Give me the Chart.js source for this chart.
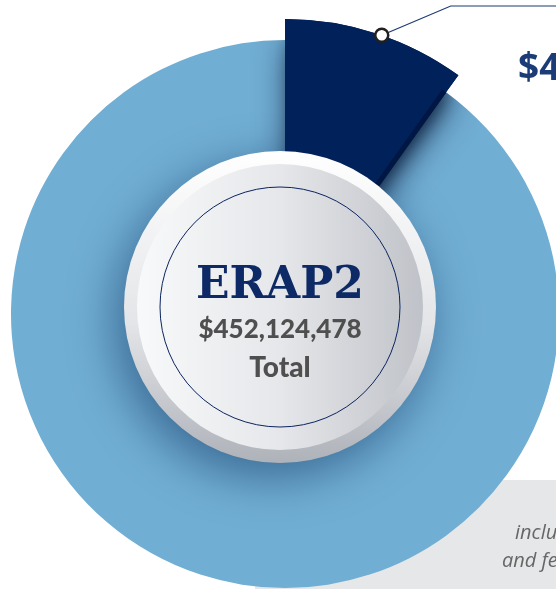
<!DOCTYPE html>
<html>
<head>
<meta charset="utf-8">
<script src="https://cdn.jsdelivr.net/npm/chart.js@4.4.1/dist/chart.umd.min.js"></script>
<style>
  html, body { margin: 0; padding: 0; background: #fff; }
  body { width: 556px; height: 592px; position: relative; overflow: hidden; }
  #note-box { position: absolute; left: 255px; top: 480px; width: 320px; height: 109px; background: #e6e7e8; }
  #wrap { position: absolute; left: -10px; top: 0; width: 600px; height: 640px; }
  .txt { position: absolute; white-space: nowrap; }
  #center-title { left: 130px; width: 300px; top: 261px; text-align: center; font: bold 44px/44px "DejaVu Serif", serif; color: #0d2a66; }
  #center-total { left: 130px; width: 300px; top: 315px; text-align: center; font: 900 26px/26px Lato, sans-serif; color: #4f4f4f; }
  #center-word { left: 130px; width: 300px; top: 352px; text-align: center; font: 900 28px/28px Lato, sans-serif; color: #4f4f4f; }
  #slice-label { left: 518px; top: 47px; font: bold 37px/37px "Open Sans", sans-serif; color: #1c3c78; }
  .note { font: italic 20px/20px "Open Sans", sans-serif; color: #666; }
</style>
</head>
<body>
<div id="note-box"></div>
<div id="wrap"><canvas id="erapChart" width="600" height="640"></canvas></div>
<div class="txt" id="center-title">ERAP2</div>
<div class="txt" id="center-total"></div>
<div class="txt" id="center-word">Total</div>
<div class="txt" id="slice-label"></div>
<div class="txt note" style="left:515px; top:522px;">includes administrative costs</div>
<div class="txt note" style="left:502px; top:550px;">and fees</div>

<script>
// --- Data ---
const categories = ['Administrative', 'Assistance'];
const amounts = [45212448, 406912030];
const sliceColors = ['#00215a', '#71aed4'];

document.addEventListener("DOMContentLoaded", function () {

    const total = amounts.reduce((a, b) => a + b, 0);
    document.getElementById("center-total").textContent = "$" + total.toLocaleString("en-US");
    document.getElementById("slice-label").textContent = "$" + amounts[0].toLocaleString("en-US");

    function wedge(ctx, cx, cy, r0, r1, a0, a1) {
        ctx.beginPath();
        ctx.arc(cx, cy, r1, a0, a1);
        ctx.arc(cx, cy, r0, a1, a0, true);
        ctx.closePath();
    }

    // --- Decorations: shadows, center button, leader line ---
    const decor = {
        id: 'decor',
        afterDatasetsDraw(chart) {
            const ctx = chart.ctx;
            const band = chart.getDatasetMeta(0).data[0];
            const inner = chart.getDatasetMeta(1).data[0];
            const cx = inner.x, cy = inner.y;
            const a0 = inner.startAngle, a1 = inner.endAngle;

            // shadow of the navy slice on the ring (two passes so it reads)
            ctx.save();
            ctx.beginPath();
            ctx.arc(cx, cy, inner.outerRadius, 0, Math.PI * 2);
            ctx.clip();
            ctx.fillStyle = sliceColors[0];
            ctx.shadowColor = 'rgba(0, 15, 45, 0.8)';
            ctx.shadowBlur = 34;
            ctx.shadowOffsetX = 6;
            ctx.shadowOffsetY = 2;
            wedge(ctx, cx, cy, inner.innerRadius, inner.outerRadius, a0, a1);
            ctx.fill();
            ctx.shadowBlur = 14;
            ctx.shadowOffsetX = 5;
            ctx.shadowColor = 'rgba(0, 15, 45, 0.45)';
            ctx.fill();
            ctx.restore();

            // whole navy slice (no seam between rings) with darker edge
            ctx.fillStyle = sliceColors[0];
            wedge(ctx, cx, cy, inner.innerRadius, band.outerRadius, a0, a1);
            ctx.fill();
            ctx.save();
            ctx.strokeStyle = '#001643';
            ctx.lineWidth = 5;
            ctx.beginPath();
            ctx.moveTo(cx + Math.cos(a1 - 0.008) * inner.innerRadius, cy + Math.sin(a1 - 0.008) * inner.innerRadius);
            ctx.lineTo(cx + Math.cos(a1 - 0.008) * inner.outerRadius, cy + Math.sin(a1 - 0.008) * inner.outerRadius);
            ctx.stroke();
            ctx.restore();

            // center button
            const bx = cx - 5, by = cy - 7;
            ctx.save();
            ctx.shadowColor = 'rgba(0, 35, 80, 0.5)';
            ctx.shadowBlur = 50;
            ctx.shadowOffsetX = -8;
            ctx.shadowOffsetY = 14;
            let g = ctx.createLinearGradient(bx, by - 156, bx, by + 156);
            g.addColorStop(0, '#ffffff');
            g.addColorStop(0.55, '#e4e5e8');
            g.addColorStop(1, '#aeb2b9');
            ctx.fillStyle = g;
            ctx.beginPath();
            ctx.arc(bx, by, 156, 0, Math.PI * 2);
            ctx.fill();
            ctx.restore();

            g = ctx.createLinearGradient(bx - 143, by, bx + 143, by);
            g.addColorStop(0, '#f8f9fa');
            g.addColorStop(0.5, '#e6e7ea');
            g.addColorStop(1, '#bfc2c8');
            ctx.fillStyle = g;
            ctx.beginPath();
            ctx.arc(bx, by, 143, 0, Math.PI * 2);
            ctx.fill();

            ctx.strokeStyle = '#0b2461';
            ctx.lineWidth = 1;
            ctx.beginPath();
            ctx.arc(bx, by, 120, 0, Math.PI * 2);
            ctx.stroke();

            // leader line from the slice
            const mid = (band.startAngle + band.endAngle) / 2 + 0.02;
            const mx = cx + Math.cos(mid) * band.outerRadius;
            const my = cy + Math.sin(mid) * band.outerRadius;
            ctx.strokeStyle = '#1b3a73';
            ctx.lineWidth = 1.2;
            ctx.beginPath();
            ctx.moveTo(mx, my);
            ctx.lineTo(mx + 69, 6);
            ctx.lineTo(chart.width, 6);
            ctx.stroke();

            ctx.fillStyle = '#ffffff';
            ctx.strokeStyle = '#231f20';
            ctx.lineWidth = 2.5;
            ctx.beginPath();
            ctx.arc(mx, my, 6.5, 0, Math.PI * 2);
            ctx.fill();
            ctx.stroke();
        }
    };

    // --- Chart ---
    const ctx = document.getElementById('erapChart').getContext('2d');
    new Chart(ctx, {
        type: 'doughnut',
        data: {
            labels: categories,
            datasets: [{
                data: amounts,
                backgroundColor: [sliceColors[0], 'rgba(0,0,0,0)'],
                borderWidth: 0,
                weight: 21
            }, {
                data: amounts,
                backgroundColor: sliceColors,
                borderWidth: 0,
                weight: 144
            }]
        },
        options: {
            responsive: false,
            animation: false,
            events: [],
            cutout: 130,
            hoverOffset: 0,
            spacing: 0,
            layout: { padding: { top: 19, left: 0, right: 10, bottom: 31 } },
            plugins: { legend: { display: false }, tooltip: { enabled: false } }
        },
        plugins: [decor]
    });
});
</script>
</body>
</html>
